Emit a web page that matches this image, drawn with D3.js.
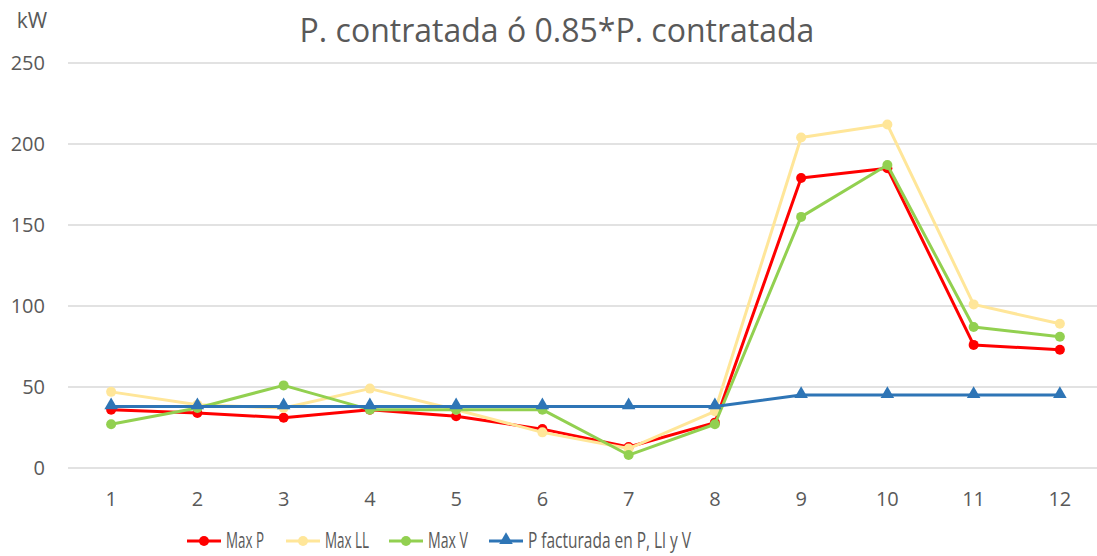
<!DOCTYPE html>
<html>
<head>
<meta charset="utf-8">
<script src="https://cdn.jsdelivr.net/npm/d3@7"></script>
<style>
  body { margin: 0; background: #fff; }
  svg text { font-family: "Open Sans", "Liberation Sans", sans-serif; fill: #595959; }
</style>
</head>
<body>
<svg id="chart" width="1097" height="556"></svg>
<script>
// Data
const months = ['1', '2', '3', '4', '5', '6', '7', '8', '9', '10', '11', '12'];
const maxP  = [36, 34, 31, 36, 32, 24, 13, 28, 179, 185, 76, 73];
const maxLL = [47, 39, 37, 49, 36, 22, 12, 35, 204, 212, 101, 89];
const maxV  = [27, 37, 51, 36, 36, 36, 8, 27, 155, 187, 87, 81];
const pFact = [38, 38, 38, 38, 38, 38, 38, 38, 45, 45, 45, 45];
const yTicks = [0, 50, 100, 150, 200, 250];

const series = [
  { name: 'Max P', values: maxP, color: '#FF0000', marker: 'circle' },
  { name: 'Max LL', values: maxLL, color: '#FFE699', marker: 'circle' },
  { name: 'Max V', values: maxV, color: '#92D050', marker: 'circle' },
  { name: 'P facturada en P, Ll y V', values: pFact, color: '#2E75B6', marker: 'triangle' }
];

const svg = d3.select('#chart');

const x = d3.scaleBand().domain(months).range([68, 1103]);
const y = d3.scaleLinear().domain([0, 250]).range([468, 63]);

// Gridlines
svg.append('g')
  .selectAll('line')
  .data(yTicks)
  .join('line')
  .attr('x1', 68).attr('x2', 1103)
  .attr('y1', d => y(d)).attr('y2', d => y(d))
  .attr('stroke', '#D9D9D9')
  .attr('stroke-width', 1.3);

// Y tick labels
svg.append('g')
  .selectAll('text')
  .data(yTicks)
  .join('text')
  .attr('x', 45)
  .attr('y', d => y(d))
  .attr('dy', '0.35em')
  .attr('text-anchor', 'end')
  .style('font-size', '20px')
  .text(d => d);

// X tick labels
svg.append('g')
  .selectAll('text')
  .data(months)
  .join('text')
  .attr('x', d => x(d) + x.bandwidth() / 2)
  .attr('y', 499)
  .attr('dy', '0.35em')
  .attr('text-anchor', 'middle')
  .style('font-size', '20px')
  .text(d => d);

// Axis unit
svg.append('text')
  .attr('x', 32).attr('y', 21)
  .attr('dy', '0.35em')
  .attr('text-anchor', 'middle')
  .style('font-size', '21px')
  .text('kW');

// Title
svg.append('text')
  .attr('x', 557).attr('y', 31)
  .attr('dy', '0.35em')
  .attr('text-anchor', 'middle')
  .style('font-size', '32px')
  .text('P. contratada ó 0.85*P. contratada');

const line = d3.line()
  .x((d, i) => x(months[i]) + x.bandwidth() / 2)
  .y(d => y(d));

const tri = d3.symbol().type(d3.symbolTriangle).size(80);

series.forEach(s => {
  const g = svg.append('g');
  g.append('path')
    .attr('d', line(s.values))
    .attr('fill', 'none')
    .attr('stroke', s.color)
    .attr('stroke-width', 3)
    .attr('stroke-linejoin', 'round');

  if (s.marker === 'circle') {
    g.selectAll('circle')
      .data(s.values)
      .join('circle')
      .attr('cx', (d, i) => x(months[i]) + x.bandwidth() / 2)
      .attr('cy', d => y(d))
      .attr('r', 5)
      .attr('fill', s.color);
  } else {
    g.selectAll('path.m')
      .data(s.values)
      .join('path')
      .attr('class', 'm')
      .attr('d', tri)
      .attr('transform', (d, i) => `translate(${x(months[i]) + x.bandwidth() / 2}, ${y(d) - 1})`)
      .attr('fill', s.color);
  }
});

// Legend (labels squeezed to the narrow face of the original)
const legendX = [187, 286, 389, 489];
const legendTextW = [38, 44, 40, 163];
const legend = svg.append('g');
series.forEach((s, i) => {
  const g = legend.append('g').attr('transform', `translate(${legendX[i]}, 541)`);
  g.append('line')
    .attr('x1', 0).attr('x2', 34)
    .attr('stroke', s.color)
    .attr('stroke-width', 3);
  if (s.marker === 'circle') {
    g.append('circle').attr('cx', 17).attr('r', 5).attr('fill', s.color);
  } else {
    g.append('path').attr('d', tri).attr('transform', 'translate(17, -1)').attr('fill', s.color);
  }
  g.append('text')
    .attr('x', 39)
    .attr('dy', '0.35em')
    .attr('textLength', legendTextW[i])
    .attr('lengthAdjust', 'spacingAndGlyphs')
    .style('font-size', '21px')
    .text(s.name);
});
</script>
</body>
</html>
